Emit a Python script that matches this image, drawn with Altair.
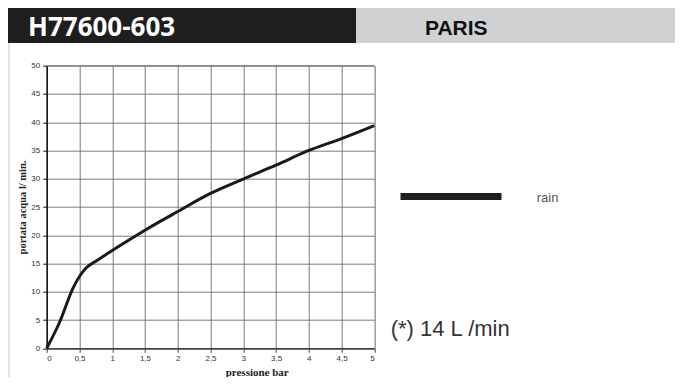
import altair as alt
import pandas as pd

# data
pressure = [0, 0.2, 0.4, 0.5, 0.6, 0.75, 1.0, 1.5, 2.0, 2.5, 3.0, 3.5, 4.0, 4.5, 5.0]
flow = [0, 4.7, 10.6, 12.7, 14.2, 15.4, 17.3, 20.9, 24.2, 27.4, 29.95, 32.4, 35.0, 37.1, 39.4]
x_ticks = [0, 0.5, 1, 1.5, 2, 2.5, 3, 3.5, 4, 4.5, 5]
y_ticks = [0, 5, 10, 15, 20, 25, 30, 35, 40, 45, 50]

df = pd.DataFrame({"p": pressure, "q": flow})

W, H = 327.6, 282.6
one = alt.Data(values=[{"a": 1}])

curve = alt.Chart(df).mark_line(color="#1a1a1a", strokeWidth=3, interpolate="monotone").encode(
    x=alt.X("p:Q", scale=alt.Scale(domain=[0, 5], nice=False),
            axis=alt.Axis(values=x_ticks, title="pressione bar",
                          labelExpr="replace(format(datum.value, '~g'), '.', ',')",
                          grid=True, gridColor="#7c7c7c", gridWidth=1,
                          domainColor="#444", domainWidth=1.5,
                          tickColor="#444", tickSize=4,
                          labelFont="Liberation Sans", labelFontSize=8, labelColor="#333",
                          labelPadding=2,
                          titleFont="Liberation Serif", titleFontSize=11, titleFontWeight="bold",
                          titleColor="#222", titleX=210, titleY=27.5,
                          titleAlign="center", titleBaseline="alphabetic")),
    y=alt.Y("q:Q", scale=alt.Scale(domain=[0, 50], nice=False),
            axis=alt.Axis(values=y_ticks, title="portata acqua  l/ min.",
                          grid=True, gridColor="#7c7c7c", gridWidth=1,
                          domainColor="#111", domainWidth=1.5,
                          tickColor="#111", tickSize=4,
                          labelFont="Liberation Sans", labelFontSize=8, labelColor="#333",
                          labelPadding=3,
                          titleFont="Liberation Serif", titleFontSize=10.5, titleFontWeight="bold",
                          titleColor="#222", titlePadding=3)),
)

top_border = alt.Chart(one).mark_rule(color="#7c7c7c", strokeWidth=1).encode(
    x=alt.value(0), x2=alt.value(W), y=alt.value(0))

black_bar = alt.Chart(one).mark_rect(color="#1e1e1e").encode(
    x=alt.value(-38.7), x2=alt.value(309.3), y=alt.value(-59.7), y2=alt.value(-22.7))
gray_bar = alt.Chart(one).mark_rect(color="#d0d1d3").encode(
    x=alt.value(309.3), x2=alt.value(628.3), y=alt.value(-59.7), y2=alt.value(-22.7))
left_line = alt.Chart(one).mark_rule(color="#e2e2e2", strokeWidth=2).encode(
    x=alt.value(-37.7), y=alt.value(-22.7), y2=alt.value(320))

code_txt = alt.Chart(one).mark_text(text="H77600-603", font="Open Sans", fontSize=26,
                                    fontWeight="bold", color="white", align="left",
                                    baseline="alphabetic").encode(
    x=alt.value(-18.7), y=alt.value(-29.7))
paris_txt = alt.Chart(one).mark_text(text="PARIS", font="Liberation Sans", fontSize=21,
                                     fontWeight="bold", color="#111", align="left",
                                     baseline="alphabetic").encode(
    x=alt.value(378.3), y=alt.value(-30.7))

legend_line = alt.Chart(one).mark_rule(color="#1e1e1e", strokeWidth=7).encode(
    x=alt.value(353.8), x2=alt.value(454.8), y=alt.value(130.8))
legend_txt = alt.Chart(one).mark_text(text="rain", font="Liberation Sans", fontSize=13,
                                      color="#555", align="left", baseline="alphabetic").encode(
    x=alt.value(490), y=alt.value(136))
note_txt = alt.Chart(one).mark_text(text="(*) 14 L /min", font="Liberation Sans", fontSize=22,
                                    color="#333", align="left", baseline="alphabetic").encode(
    x=alt.value(344), y=alt.value(270))

chart = alt.layer(
    black_bar, gray_bar, left_line, code_txt, paris_txt,
    curve, top_border, legend_line, legend_txt, note_txt
).properties(
    width=W, height=H,
    autosize=alt.AutoSizeParams(type="none"),
    padding={"left": 38.7, "top": 57.7, "right": 300.7, "bottom": 28.7},
).configure_view(stroke=None).configure(background="white")

chart.save("out.html", embed_options={"renderer": "svg", "actions": False})
